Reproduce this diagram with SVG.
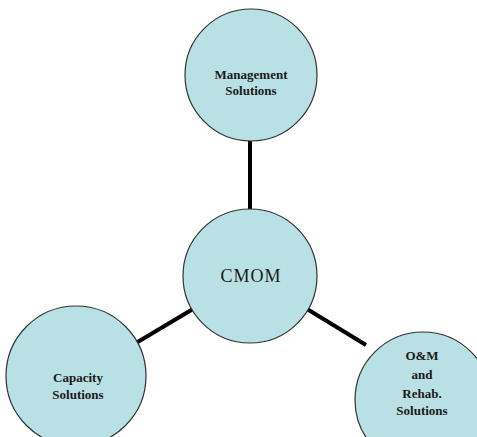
<svg xmlns="http://www.w3.org/2000/svg" width="477" height="437" viewBox="0 0 477 437">
  <style>
    .node { fill: #b9e0e4; stroke: #333333; stroke-width: 1.2; }
    .label { font-family: "Liberation Serif", "Times New Roman", serif; font-size: 13px; font-weight: bold; fill: #1a1a1a; text-anchor: middle; }
    .hub { font-family: "Liberation Serif", "Times New Roman", serif; font-size: 18px; letter-spacing: 1px; fill: #1a1a1a; text-anchor: middle; }
    .edge { stroke: #000000; stroke-width: 4; fill: none; }
  </style>
  <rect width="477" height="437" fill="#ffffff"/>
  <g id="connectors">
    <line class="edge" x1="250" y1="138" x2="250" y2="210"/>
    <line class="edge" x1="193" y1="309" x2="136" y2="343"/>
    <line class="edge" x1="307" y1="309" x2="366" y2="345"/>
  </g>
  <g id="management">
    <circle class="node" cx="251" cy="75" r="66"/>
    <text class="label" x="251" y="79">Management</text>
    <text class="label" x="251" y="95">Solutions</text>
  </g>
  <g id="cmom">
    <circle class="node" cx="250" cy="276" r="67"/>
    <text class="hub" x="251" y="282">CMOM</text>
  </g>
  <g id="capacity">
    <circle class="node" cx="76" cy="376" r="70"/>
    <text class="label" x="78" y="382">Capacity</text>
    <text class="label" x="78" y="399">Solutions</text>
  </g>
  <g id="om-rehab">
    <circle class="node" cx="423" cy="400" r="68"/>
    <text class="label" x="422" y="360">O&amp;M</text>
    <text class="label" x="422" y="379">and</text>
    <text class="label" x="422" y="398">Rehab.</text>
    <text class="label" x="422" y="415">Solutions</text>
  </g>
</svg>
